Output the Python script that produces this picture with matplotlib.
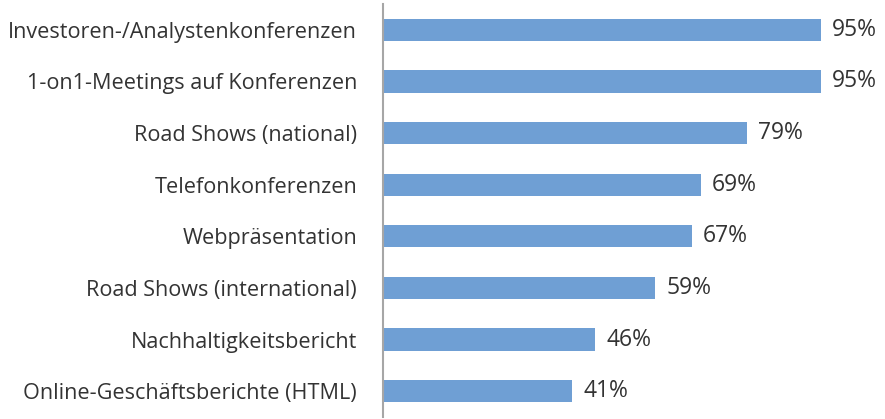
import numpy as np
import matplotlib.pyplot as plt

categories = [
    "Investoren-/Analystenkonferenzen",
    "1-on1-Meetings auf Konferenzen",
    "Road Shows (national)",
    "Telefonkonferenzen",
    "Webpräsentation",
    "Road Shows (international)",
    "Nachhaltigkeitsbericht",
    "Online-Geschäftsberichte (HTML)",
]
values = [95, 95, 79, 69, 67, 59, 46, 41]

plt.rcParams['font.family'] = ['Open Sans', 'DejaVu Sans']

fig = plt.figure(figsize=(8.85, 4.19), dpi=100)
ax = fig.add_axes([383 / 885, 2 / 419, 461 / 885, 413 / 419])

y = np.arange(len(categories))
ax.barh(y, values, height=0.43, color='#6f9fd4')
ax.set_xlim(0, 100)
ax.set_ylim(len(categories) - 0.5, -0.5)

for yi, v in zip(y, values):
    ax.text(v + 2.4, yi, f"{v}%", va='center', ha='left', fontsize=16.5, color='#333333')

ax.set_yticks(y)
ax.set_yticklabels(categories, fontsize=15.6, color='#333333')
ax.tick_params(axis='y', length=0, pad=18.7)
ax.set_xticks([])
for s in ['top', 'right', 'bottom']:
    ax.spines[s].set_visible(False)
ax.spines['left'].set_color('#a6a6a6')
ax.spines['left'].set_linewidth(1.5)

fig.savefig('out.png', dpi=100)
plt.close(fig)
